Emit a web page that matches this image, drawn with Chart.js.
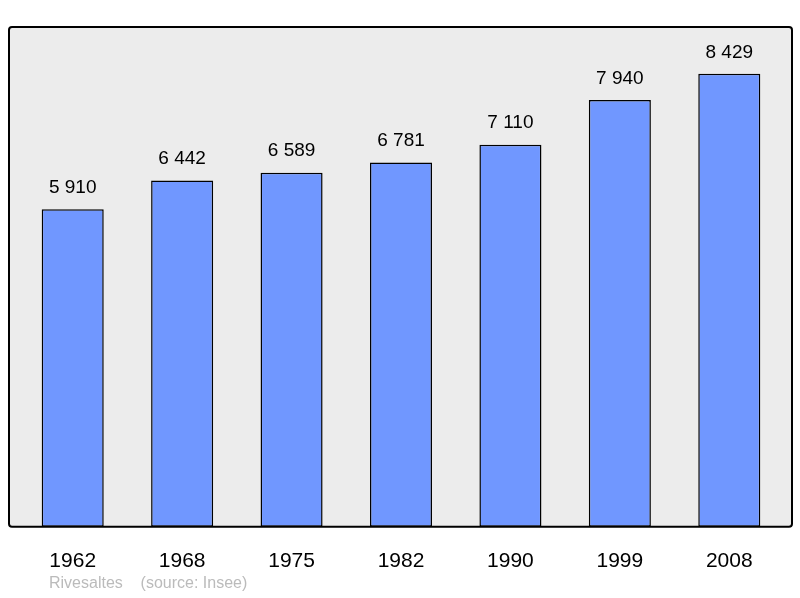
<!DOCTYPE html>
<html>
<head>
<meta charset="utf-8">
<script src="https://cdn.jsdelivr.net/npm/chart.js@4/dist/chart.umd.min.js"></script>
<style>
  html, body { margin: 0; padding: 0; background: #fff; }
  #wrap { width: 800px; height: 598px; }
</style>
</head>
<body>
<div id="wrap"><canvas id="pop"></canvas></div>
<script>
// population census of Rivesaltes
const years = ['1962', '1968', '1975', '1982', '1990', '1999', '2008'];
const population = [5910, 6442, 6589, 6781, 7110, 7940, 8429];
const valueLabels = ['5 910', '6 442', '6 589', '6 781', '7 110', '7 940', '8 429'];

// grey panel + frame behind the bars, value labels and footer
const decor = {
  id: 'decor',
  beforeDatasetsDraw(chart) {
    const { ctx, chartArea: a } = chart;
    ctx.save();
    ctx.fillStyle = '#ececec';
    ctx.fillRect(9, a.top, 783, a.bottom - a.top);
    ctx.restore();
  },
  afterDatasetsDraw(chart) {
    const { ctx, chartArea: a } = chart;
    ctx.save();
    ctx.strokeStyle = '#000';
    ctx.lineWidth = 2;
    ctx.beginPath();
    ctx.roundRect(9, a.top, 783, a.bottom - a.top, 3);
    ctx.stroke();

    ctx.fillStyle = '#000';
    ctx.font = '19px "Liberation Sans", Arial, sans-serif';
    ctx.textAlign = 'center';
    ctx.textBaseline = 'bottom';
    chart.getDatasetMeta(0).data.forEach((bar, i) => {
      ctx.fillText(valueLabels[i], bar.x, bar.y - 12);
    });

    ctx.fillStyle = '#bbbbbb';
    ctx.font = '16px "Liberation Sans", Arial, sans-serif';
    ctx.textAlign = 'left';
    ctx.textBaseline = 'middle';
    ctx.fillText('Rivesaltes    (source: Insee)', 49, 584);
    ctx.restore();
  }
};

new Chart(document.getElementById('pop'), {
  type: 'bar',
  data: {
    labels: years,
    datasets: [{
      data: population,
      backgroundColor: '#7097ff',
      borderColor: '#000',
      borderWidth: 1.5,
      borderSkipped: false,
      barPercentage: 0.567,
      categoryPercentage: 1
    }]
  },
  options: {
    responsive: true,
    maintainAspectRatio: false,
    animation: false,
    layout: { padding: { top: 27, left: 18, right: 16, bottom: 10 } },
    plugins: { legend: { display: false }, tooltip: { enabled: false } },
    scales: {
      y: { display: false, min: 0, max: 9300 },
      x: {
        grid: { display: false },
        border: { display: false },
        ticks: {
          color: '#000',
          padding: 14,
          font: { size: 21, family: '"Liberation Sans", Arial, sans-serif' }
        }
      }
    }
  },
  plugins: [decor]
});
</script>
</body>
</html>
